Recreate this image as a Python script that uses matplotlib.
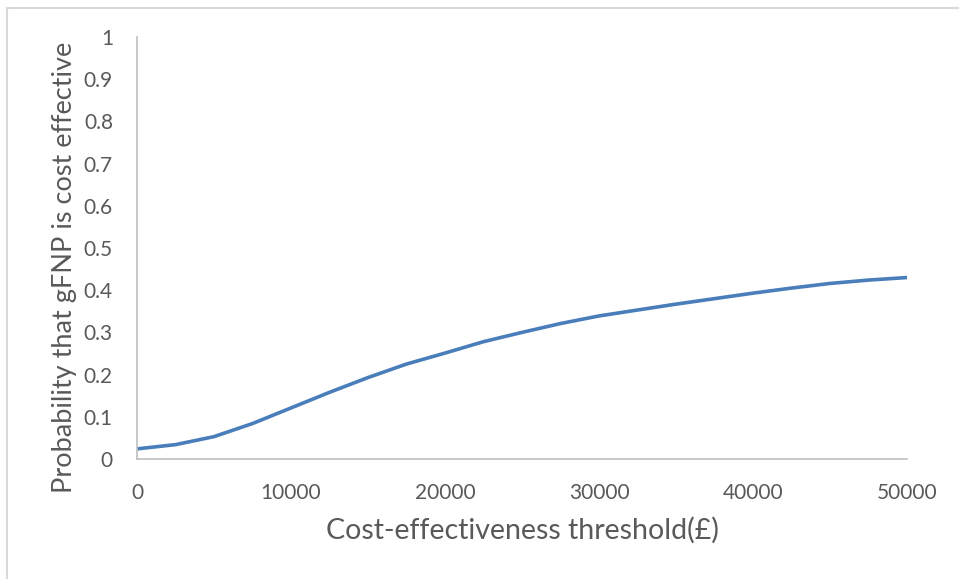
import matplotlib
matplotlib.use("Agg")
import matplotlib.pyplot as plt
from matplotlib.patches import Rectangle

thresholds = [0, 2500, 5000, 7500, 10000, 12500, 15000, 17500, 20000, 22500,
              25000, 27500, 30000, 32500, 35000, 37500, 40000, 42500, 45000,
              47500, 50000]
probability = [0.024, 0.034, 0.053, 0.084, 0.121, 0.158, 0.193, 0.225, 0.251,
               0.278, 0.300, 0.321, 0.339, 0.353, 0.367, 0.380, 0.393, 0.405,
               0.416, 0.424, 0.430]
x_ticks = [0, 10000, 20000, 30000, 40000, 50000]
y_ticks = [0, 0.1, 0.2, 0.3, 0.4, 0.5, 0.6, 0.7, 0.8, 0.9, 1]
y_tick_labels = ["0", "0.1", "0.2", "0.3", "0.4", "0.5", "0.6", "0.7", "0.8", "0.9", "1"]

plt.rcParams['font.family'] = ['Lato', 'DejaVu Sans']
W, H = 959, 579
fig = plt.figure(figsize=(W / 100, H / 100), dpi=100)
fig.patches.append(Rectangle((7 / W, -0.1), 1.2, 1 - 8 / H + 0.1, transform=fig.transFigure,
                             fill=False, edgecolor='#d9d9d9', linewidth=1.5))
ax = fig.add_axes([137 / W, 1 - 459 / H, (907 - 137) / W, (459 - 37) / H])
ax.plot(thresholds, probability, color='#4a7ebb', linewidth=2.6, solid_capstyle='butt')
ax.set_xlim(0, 50000)
ax.set_ylim(0, 1)
ax.set_xticks(x_ticks)
ax.set_xticklabels([str(v) for v in x_ticks])
ax.set_yticks(y_ticks)
ax.set_yticklabels(y_tick_labels)
for s in ['top', 'right']:
    ax.spines[s].set_visible(False)
for s in ['left', 'bottom']:
    ax.spines[s].set_color('#bfbfbf')
    ax.spines[s].set_linewidth(1.2)
ax.tick_params(axis='both', length=0, labelsize=15, labelcolor='#595959')
ax.tick_params(axis='x', pad=17)
ax.tick_params(axis='y', pad=17.3)
ax.set_xlabel('Cost-effectiveness threshold(£)', fontsize=20.5, color='#595959', labelpad=10)
ax.set_ylabel('Probability that gFNP is cost effective', fontsize=19.5, color='#595959')
ax.yaxis.set_label_coords(-0.078, (459 - 267) / 422)
fig.savefig('out.png', dpi=100)
